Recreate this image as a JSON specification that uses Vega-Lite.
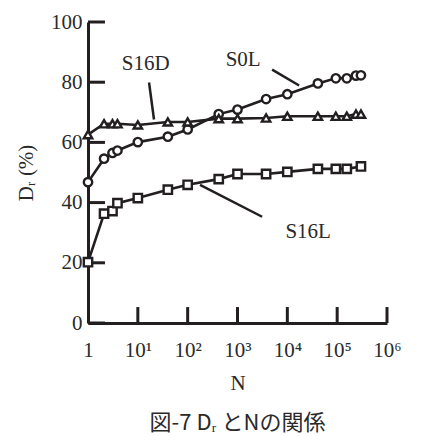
{
  "$schema": "https://vega.github.io/schema/vega-lite/v6.json",
  "autosize": "none",
  "width": 299,
  "height": 301,
  "padding": {"left": 88, "top": 22, "right": 34, "bottom": 114},
  "background": "white",
  "config": {
    "view": {"stroke": null},
    "font": "Liberation Serif"
  },
  "title": {
    "text": "図-7 Dᵣ とNの関係",
    "orient": "bottom",
    "anchor": "middle",
    "font": "Noto Sans CJK JP",
    "fontSize": 22,
    "fontWeight": "normal",
    "color": "#2a2a2a",
    "offset": 20
  },
  "datasets": {
    "main": [
      {"series": "S0L", "N": 1, "Dr": 46.8},
      {"series": "S0L", "N": 2.1, "Dr": 54.6},
      {"series": "S0L", "N": 3.1, "Dr": 56.5},
      {"series": "S0L", "N": 3.9, "Dr": 57.3},
      {"series": "S0L", "N": 10, "Dr": 60.1},
      {"series": "S0L", "N": 40, "Dr": 61.9},
      {"series": "S0L", "N": 100, "Dr": 64.3},
      {"series": "S0L", "N": 420, "Dr": 69.4},
      {"series": "S0L", "N": 1000, "Dr": 70.9},
      {"series": "S0L", "N": 3750, "Dr": 74.4},
      {"series": "S0L", "N": 10000, "Dr": 76.0},
      {"series": "S0L", "N": 41000, "Dr": 79.6},
      {"series": "S0L", "N": 94000, "Dr": 81.3},
      {"series": "S0L", "N": 156000, "Dr": 81.3},
      {"series": "S0L", "N": 238000, "Dr": 82.2},
      {"series": "S0L", "N": 300000, "Dr": 82.3},
      {"series": "S16D", "N": 1, "Dr": 62.6},
      {"series": "S16D", "N": 2.1, "Dr": 66.2},
      {"series": "S16D", "N": 3.1, "Dr": 66.2},
      {"series": "S16D", "N": 3.9, "Dr": 66.2},
      {"series": "S16D", "N": 10, "Dr": 65.8},
      {"series": "S16D", "N": 40, "Dr": 66.8},
      {"series": "S16D", "N": 100, "Dr": 66.8},
      {"series": "S16D", "N": 420, "Dr": 67.9},
      {"series": "S16D", "N": 1000, "Dr": 67.9},
      {"series": "S16D", "N": 3750, "Dr": 68.1},
      {"series": "S16D", "N": 10000, "Dr": 68.7},
      {"series": "S16D", "N": 41000, "Dr": 68.7},
      {"series": "S16D", "N": 94000, "Dr": 68.7},
      {"series": "S16D", "N": 156000, "Dr": 68.7},
      {"series": "S16D", "N": 238000, "Dr": 69.4},
      {"series": "S16D", "N": 300000, "Dr": 69.4},
      {"series": "S16L", "N": 1, "Dr": 20.2},
      {"series": "S16L", "N": 2.1, "Dr": 36.3},
      {"series": "S16L", "N": 3.1, "Dr": 37.2},
      {"series": "S16L", "N": 3.9, "Dr": 39.8},
      {"series": "S16L", "N": 10, "Dr": 41.5},
      {"series": "S16L", "N": 40, "Dr": 44.3},
      {"series": "S16L", "N": 100, "Dr": 45.9},
      {"series": "S16L", "N": 420, "Dr": 47.8},
      {"series": "S16L", "N": 1000, "Dr": 49.5},
      {"series": "S16L", "N": 3750, "Dr": 49.5},
      {"series": "S16L", "N": 10000, "Dr": 50.2},
      {"series": "S16L", "N": 41000, "Dr": 51.2},
      {"series": "S16L", "N": 94000, "Dr": 51.2},
      {"series": "S16L", "N": 156000, "Dr": 51.2},
      {"series": "S16L", "N": 300000, "Dr": 52.0}
    ],
    "labels": [
      {"label": "S16D", "N": 14.4, "Dr": 85.9},
      {"label": "S0L", "N": 1300, "Dr": 87.5},
      {"label": "S16L", "N": 26200, "Dr": 30.3}
    ],
    "leaders": [
      {"label": "S16D", "N": 16.8, "Dr": 79.9, "N2": 21.1, "Dr2": 67.6},
      {"label": "S0L", "N": 4950, "Dr": 84.2, "N2": 17250, "Dr2": 78.9},
      {"label": "S16L", "N": 177, "Dr": 45.9, "N2": 3120, "Dr2": 35.3}
    ],
    "ticks": [
      {"N": 10, "N2": 10, "Dr": 0, "Dr2": 5.3},
      {"N": 100, "N2": 100, "Dr": 0, "Dr2": 5.3},
      {"N": 1000, "N2": 1000, "Dr": 0, "Dr2": 5.3},
      {"N": 10000, "N2": 10000, "Dr": 0, "Dr2": 5.3},
      {"N": 100000, "N2": 100000, "Dr": 0, "Dr2": 5.3},
      {"N": 1000000, "N2": 1000000, "Dr": 0, "Dr2": 5.3},
      {"N": 1, "N2": 2.19, "Dr": 0, "Dr2": 0},
      {"N": 1, "N2": 2.19, "Dr": 20, "Dr2": 20},
      {"N": 1, "N2": 2.19, "Dr": 40, "Dr2": 40},
      {"N": 1, "N2": 2.19, "Dr": 60, "Dr2": 60},
      {"N": 1, "N2": 2.19, "Dr": 80, "Dr2": 80},
      {"N": 1, "N2": 2.19, "Dr": 100, "Dr2": 100}
    ]
  },
  "layer": [
    {
      "data": {"name": "ticks"},
      "mark": {"type": "rule", "stroke": "#231f20", "strokeWidth": 3},
      "encoding": {
        "x": {"field": "N", "type": "quantitative"},
        "x2": {"field": "N2"},
        "y": {"field": "Dr", "type": "quantitative"},
        "y2": {"field": "Dr2"}
      }
    },
    {
      "data": {"name": "leaders"},
      "mark": {"type": "rule", "stroke": "#231f20", "strokeWidth": 2.5},
      "encoding": {
        "x": {"field": "N", "type": "quantitative"},
        "x2": {"field": "N2"},
        "y": {"field": "Dr", "type": "quantitative"},
        "y2": {"field": "Dr2"}
      }
    },
    {
      "data": {"name": "labels"},
      "mark": {"type": "text", "font": "Liberation Serif", "fontSize": 21, "fill": "#2a2a2a", "align": "center", "baseline": "middle"},
      "encoding": {
        "x": {"field": "N", "type": "quantitative"},
        "y": {"field": "Dr", "type": "quantitative"},
        "text": {"field": "label"}
      }
    },
    {
      "data": {"name": "main"},
      "mark": {"type": "line", "stroke": "#231f20", "strokeWidth": 2.6},
      "encoding": {
        "x": {"field": "N", "type": "quantitative"},
        "y": {"field": "Dr", "type": "quantitative"},
        "detail": {"field": "series"},
        "order": {"field": "N"}
      }
    },
    {
      "data": {"name": "main"},
      "mark": {"type": "point", "filled": false, "fill": "white", "fillOpacity": 1, "stroke": "#231f20", "strokeWidth": 2.4, "size": 70, "opacity": 1},
      "encoding": {
        "x": {
          "field": "N", "type": "quantitative",
          "scale": {"type": "log", "domain": [1, 1000000]},
          "axis": {
            "values": [1, 10, 100, 1000, 10000, 100000, 1000000],
            "labelExpr": "['1','10¹','10²','10³','10⁴','10⁵','10⁶'][round(log(datum.value)/LN10)]",
            "title": "N",
            "titleFont": "Liberation Serif",
            "titleFontSize": 21,
            "titleFontWeight": "normal",
            "titleColor": "#2a2a2a",
            "titlePadding": 12,
            "labelFont": "Liberation Serif",
            "labelFontSize": 21,
            "labelColor": "#2a2a2a",
            "labelBaseline": "top",
            "labelPadding": 16,
            "labelFlush": false,
            "labelOverlap": false,
            "ticks": false,
            "domainColor": "#231f20",
            "domainWidth": 3,
            "grid": false
          }
        },
        "y": {
          "field": "Dr", "type": "quantitative",
          "scale": {"domain": [0, 100]},
          "axis": {
            "values": [0, 20, 40, 60, 80, 100],
            "title": "Dᵣ (%)",
            "titleFont": "Liberation Serif",
            "titleFontSize": 21,
            "titleFontWeight": "normal",
            "titleColor": "#2a2a2a",
            "titlePadding": 14,
            "labelFont": "Liberation Serif",
            "labelFontSize": 21,
            "labelColor": "#2a2a2a",
            "labelPadding": 6,
            "labelFlush": false,
            "labelOverlap": false,
            "ticks": false,
            "domainColor": "#231f20",
            "domainWidth": 3,
            "grid": false
          }
        },
        "shape": {
          "field": "series", "type": "nominal",
          "scale": {"domain": ["S0L", "S16D", "S16L"], "range": ["circle", "triangle-up", "square"]},
          "legend": null
        }
      }
    }
  ]
}
